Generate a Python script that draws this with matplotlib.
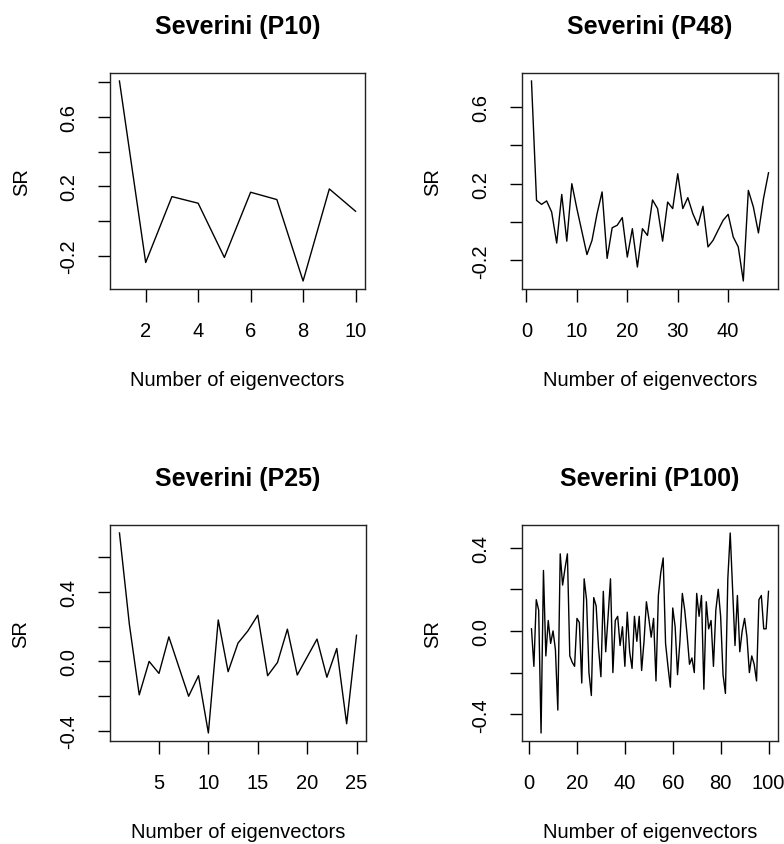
import matplotlib
matplotlib.use("Agg")
import matplotlib.pyplot as plt

plt.rcParams["font.family"] = ["Liberation Sans", "DejaVu Sans"]

# SR values, one list per panel
sr_p10 = [0.805, -0.236, 0.142, 0.104, -0.207, 0.167, 0.125, -0.342, 0.186, 0.058]

sr_p48 = [0.736, 0.113, 0.092, 0.110, 0.052, -0.110, 0.144, -0.100, 0.200, 0.070,
          -0.050, -0.170, -0.096, 0.043, 0.157, -0.190, -0.030, -0.017, 0.023, -0.183,
          -0.035, -0.235, -0.035, -0.070, 0.115, 0.070, -0.100, 0.104, 0.070, 0.252,
          0.070, 0.127, 0.043, -0.017, 0.082, -0.130, -0.096, -0.043, 0.009, 0.040,
          -0.078, -0.130, -0.308, 0.165, 0.078, -0.057, 0.122, 0.257]

sr_p25 = [0.737, 0.213, -0.192, 0.0, -0.069, 0.141, -0.030, -0.200, -0.082, -0.411,
          0.238, -0.059, 0.105, 0.175, 0.265, -0.082, -0.006, 0.185, -0.078, 0.025,
          0.128, -0.091, 0.074, -0.358, 0.150]

sr_p100 = [0.01, -0.17, 0.15, 0.10, -0.49, 0.29, -0.12, 0.05, -0.06, 0.00,
           -0.09, -0.38, 0.37, 0.22, 0.30, 0.37, -0.12, -0.15, -0.17, 0.06,
           0.04, -0.25, 0.25, 0.15, -0.20, -0.31, 0.16, 0.12, -0.08, -0.22,
           0.19, -0.10, 0.07, 0.25, -0.20, 0.05, 0.07, -0.07, 0.02, -0.17,
           0.09, -0.10, -0.18, 0.07, -0.05, 0.07, -0.19, -0.05, 0.14, 0.06,
           -0.03, 0.06, -0.24, 0.17, 0.28, 0.35, -0.06, -0.17, -0.27, 0.11,
           0.02, -0.21, -0.05, 0.18, 0.10, -0.02, -0.16, -0.13, -0.20, 0.18,
           0.07, 0.17, -0.28, 0.14, 0.01, 0.05, -0.17, 0.10, 0.20, 0.07,
           -0.21, -0.30, 0.25, 0.47, 0.20, -0.07, 0.17, -0.10, 0.00, 0.06,
           -0.03, -0.20, -0.12, -0.16, -0.24, 0.15, 0.17, 0.01, 0.01, 0.19]

# (title, values, x ticks, y ticks, labelled y ticks)
panels = [
    ("Severini (P10)", sr_p10, [2, 4, 6, 8, 10], [-0.2, 0.0, 0.2, 0.4, 0.6, 0.8], [-0.2, 0.2, 0.6]),
    ("Severini (P48)", sr_p48, [0, 10, 20, 30, 40], [-0.2, 0.0, 0.2, 0.4, 0.6], [-0.2, 0.2, 0.6]),
    ("Severini (P25)", sr_p25, [5, 10, 15, 20, 25], [-0.4, -0.2, 0.0, 0.2, 0.4, 0.6], [-0.4, 0.0, 0.4]),
    ("Severini (P100)", sr_p100, [0, 20, 40, 60, 80, 100], [-0.4, -0.2, 0.0, 0.2, 0.4], [-0.4, 0.0, 0.4]),
]

W, H = 784, 845
# axes boxes in pixels: left, top, right, bottom
boxes = [(110, 74, 365, 290), (522, 74, 778, 290),
         (110, 526, 366, 742), (522, 526, 778, 742)]

fig = plt.figure(figsize=(W / 100, H / 100), dpi=100)

for (title, vals, xt, yt, ylab), (l, t, r, b) in zip(panels, boxes):
    ax = fig.add_axes([l / W, 1 - b / H, (r - l) / W, (b - t) / H])
    x = list(range(1, len(vals) + 1))
    ax.plot(x, vals, color="black", linewidth=1.0)
    ax.margins(0.04)
    ax.set_xticks(xt)
    ax.set_xticklabels([str(v) for v in xt])
    ax.set_yticks(yt)
    ax.set_yticklabels([f"{v:.1f}".replace("-0.0", "0.0") if v in ylab else "" for v in yt])
    ax.tick_params(direction="out", length=9, width=1.0, labelsize=14.5, pad=14)
    ax.tick_params(axis="y", labelrotation=90)
    for lab in ax.get_yticklabels():
        lab.set_va("center")
    for s in ax.spines.values():
        s.set_linewidth(1.0)
        s.set_color("#222222")
    ax.set_title(title, fontsize=18, fontweight="bold", pad=29)
    ax.set_xlabel("Number of eigenvectors", fontsize=14.5)
    ax.set_ylabel("SR", fontsize=14.5)
    ax.xaxis.set_label_coords(0.5, -0.375)
    ax.yaxis.set_label_coords(-0.31, 0.5)

fig.savefig("out.png", dpi=100)
plt.close(fig)
